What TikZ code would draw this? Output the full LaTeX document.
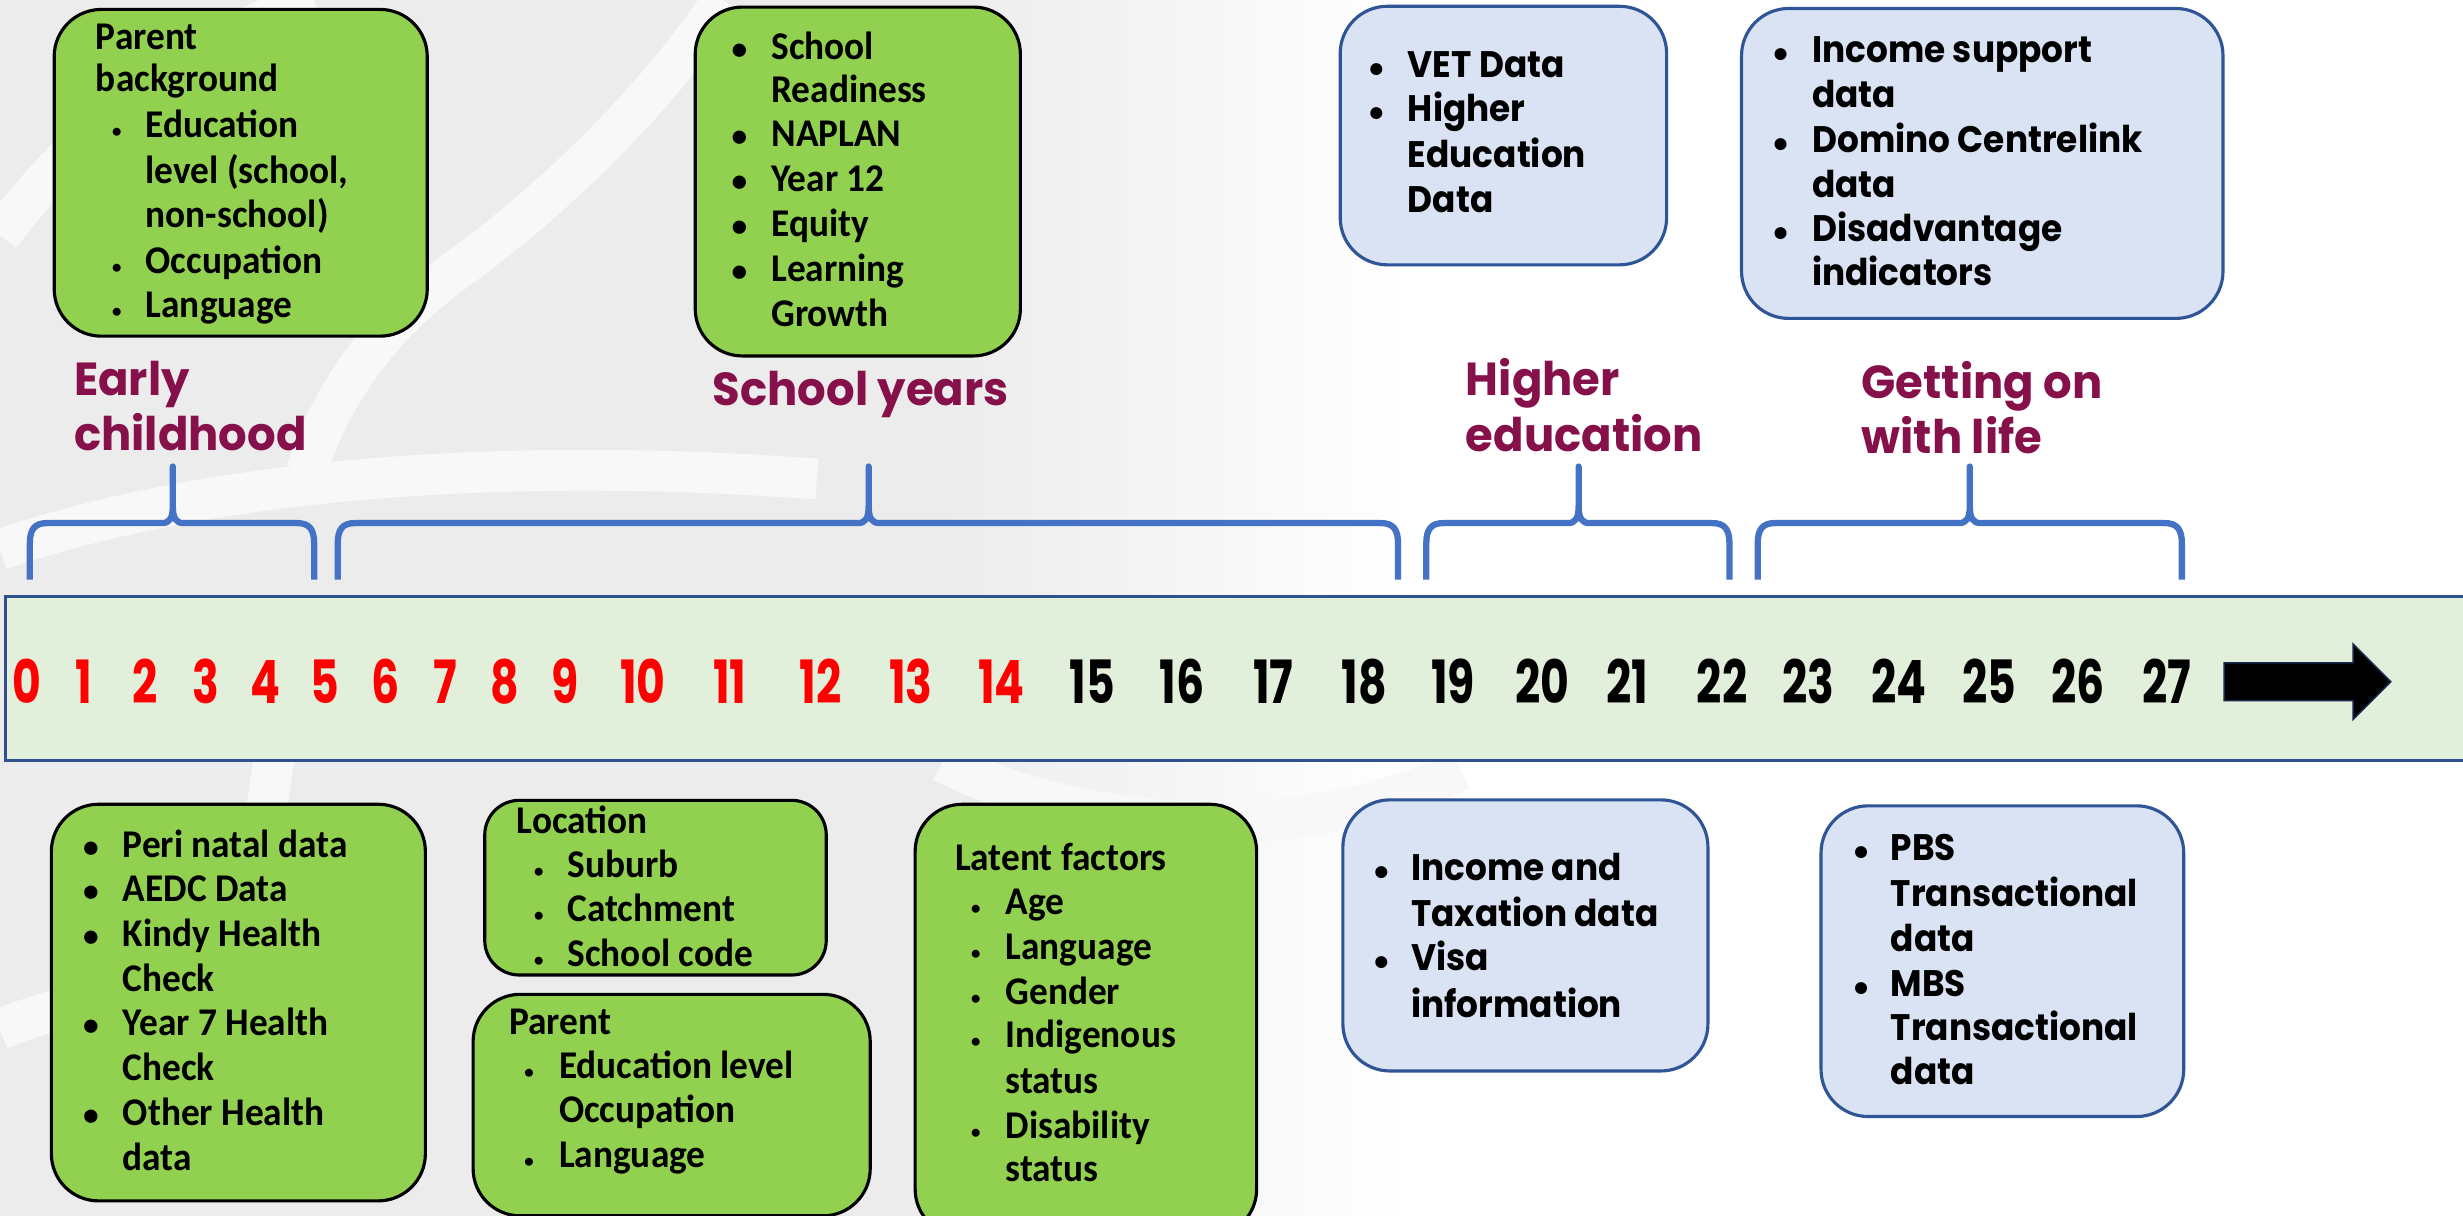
\documentclass[tikz,border=0pt]{standalone}
\usepackage{fontspec}
\setmainfont{Carlito}[FakeStretch=0.95]
\newfontfamily\bulfont{Carlito}
\newfontfamily\gothic{Poppins}[FakeStretch=0.93]
\newfontfamily\headfont{Poppins}[FakeStretch=0.97]
\newfontfamily\numfont{Poppins}[FakeStretch=0.74]
\definecolor{gfill}{HTML}{92D050}
\definecolor{bfill}{HTML}{DAE3F3}
\definecolor{bdraw}{HTML}{2F5597}
\definecolor{bandfill}{HTML}{E2EFDA}
\definecolor{banddraw}{HTML}{2F528F}
\definecolor{bracec}{HTML}{4472C4}
\definecolor{headc}{HTML}{86104A}
\definecolor{wmgray}{HTML}{ECECEC}
\definecolor{wmwhite}{HTML}{F8F8F8}
\definecolor{numred}{HTML}{FF0000}

\newcommand\boxat[6]{\node[#2, anchor=north west, minimum width={#5pt-#3pt}, minimum height={#6pt-#4pt}] (#1) at (#3,#4) {};}

\newcommand\tblock[7]{%
  \foreach \yy/\bt/\txt [count=\i] in {#7}{%
    \ifcase\bt
      \node[#5] (#1-\i) at (#2,\yy) {\txt};
    \or
      \node[#6] (#1-d\i) at (#3,\yy) {\textbullet};
      \node[#5] (#1-\i) at (#4,\yy) {\txt};
    \or
      \node[smallbul] (#1-d\i) at (#3,\yy) {\textbullet};
      \node[#5] (#1-\i) at (#4,\yy) {\txt};
    \or
      \node[#5] (#1-\i) at (#4,\yy) {\txt};
    \fi}}

\newcommand\agebrace[3]{%
  \draw[bracestyle] (#1,369) -- (#1,346) .. controls (#1,337) and (#1+3,333) .. (#1+11,333)
    -- (#2-7,333) .. controls (#2-2,333) and (#2,330) .. (#2,322) -- (#2,297)
    -- (#2,322) .. controls (#2,330) and (#2+2,333) .. (#2+7,333)
    -- (#3-11,333) .. controls (#3-3,333) and (#3,337) .. (#3,346) -- (#3,369);}

\begin{document}
\begin{tikzpicture}[x=1pt,y=-1pt,
  gbox/.style={draw=black, line width=2pt, fill=gfill, rounded corners=30pt, inner sep=0pt},
  bbox/.style={draw=bdraw, line width=2pt, fill=bfill, rounded corners=30pt, inner sep=0pt},
  gtxt/.style={inner sep=0pt, anchor=base west, font=\fontsize{25}{28}\selectfont\bfseries},
  btxt/.style={inner sep=0pt, anchor=base west, font=\gothic\fontsize{23.5}{28}\selectfont\bfseries},
  htxt/.style={inner sep=0pt, anchor=base west, text=headc, font=\headfont\fontsize{29.5}{35}\selectfont\bfseries},
  numtxt/.style={inner sep=0pt, anchor=base, font=\numfont\fontsize{38}{38}\selectfont\bfseries},
  bigbul/.style={inner sep=0pt, anchor=base, font=\bulfont\fontsize{20}{20}\selectfont\bfseries},
  bluebul/.style={inner sep=0pt, anchor=base, font=\bulfont\fontsize{18}{18}\selectfont\bfseries},
  smallbul/.style={inner sep=0pt, anchor=base, font=\bulfont\fontsize{12}{12}\selectfont\bfseries},
  bracestyle/.style={draw=bracec, line width=4pt, line join=round}]
\useasboundingbox (0,0) rectangle (1568,774);
% watermark background
\fill[white] (0,0) rectangle (1568,774);
\fill[wmgray] (0,0) rectangle (600,774);
\shade[left color=wmgray, right color=white] (599,0) rectangle (900,774);
\begin{scope}[wmwhite, line width=26pt]
\draw (0,150) .. controls (60,70) and (130,25) .. (200,0);
\draw (0,350) .. controls (130,305) and (320,290) .. (520,305);
\draw (195,300) .. controls (215,240) and (250,200) .. (300,165);
\draw (300,165) .. controls (360,120) and (420,60) .. (460,0);
\draw (600,485) .. controls (700,535) and (840,535) .. (930,490);
\draw (175,480) .. controls (165,540) and (160,600) .. (160,660);
\draw (0,655) .. controls (40,640) and (80,630) .. (120,625);
\end{scope}
% timeline band
\node[draw=banddraw, line width=2pt, fill=bandfill, anchor=north west, inner sep=0pt,
  minimum width=1580pt, minimum height=104.6pt] (band) at (2.6,378.6) {};
\draw[fill=black, draw=bdraw!50!black, line width=1pt] (1416,422) -- (1498,422) -- (1498,410)
  -- (1522,434) -- (1498,458) -- (1498,446) -- (1416,446) -- cycle;
% ages
\foreach \n/\xx in {0/17,1/53.6,2/92.6,3/131,4/169.3,5/207,6/245.4,7/283.8,8/321.6,9/360,
  10/409.3,11/464.7,12/522.5,13/579.8,14/637.6}
  \node[numtxt, text=numred] (age\n) at (\xx,447.6) {\n};
\foreach \n/\xx in {15/695.5,16/752.7,17/810.5,18/868.5,19/925,20/981.9,21/1035.8,22/1096.3,
  23/1151,24/1209,25/1266.5,26/1323,27/1379.3}
  \node[numtxt, text=black] (age\n) at (\xx,447.6) {\n};
% braces
\agebrace{19}{110}{200}
\agebrace{215}{553}{890}
\agebrace{908}{1005}{1101}
\agebrace{1119}{1254}{1389}
% stage headings
\node[htxt] (h1a) at (47,251.5) {Early};
\node[htxt] (h1b) at (47,286.5) {childhood};
\node[htxt] (h2) at (453.5,258) {School years};
\node[htxt] (h3a) at (933,252) {Higher};
\node[htxt] (h3b) at (933,287.5) {education};
\node[htxt] (h4a) at (1185,253.5) {Getting on};
\node[htxt] (h4b) at (1185,288.7) {with life};
% boxes
\boxat{pbg}{gbox}{33.5}{5}{271}{213}
\boxat{sch}{gbox}{441.6}{3.5}{648.6}{225.6}
\boxat{vet}{bbox}{852.2}{3}{1060}{167.6}
\boxat{inc}{bbox}{1107.7}{4.4}{1414.2}{201.7}
\boxat{peri}{gbox}{31.7}{511}{269.8}{763.5}
\boxat{loc}{gbox, rounded corners=22pt}{307.6}{508.5}{525}{619.7}
\boxat{par}{gbox}{300.2}{632}{553}{773}
\boxat{lat}{gbox}{581.6}{511}{799}{786}
\boxat{tax}{bbox}{853.9}{508.2}{1086.3}{680.8}
\boxat{pbs}{bbox}{1158.3}{512}{1389.2}{709.8}
% box texts
\tblock{pbgt}{60.9}{74.3}{92.6}{gtxt}{bigbul}{31.7/0/Parent, 58.5/0/background, 87.7/2/Education,
  116.5/3/{level (school,}, 145/3/{non-school)}, 174.2/2/Occupation, 202.2/2/Language}
\tblock{scht}{0}{470.8}{490.9}{gtxt}{bigbul}{37.8/1/School, 65.3/3/Readiness, 93.3/1/NAPLAN,
  121.8/1/Year 12, 150.3/1/Equity, 179/1/Learning, 207.6/3/Growth}
\tblock{vett}{0}{876.2}{896.1}{btxt}{bluebul}{49.5/1/VET Data, 77.5/1/Higher, 106.7/3/Education, 135.2/3/Data}
\tblock{inct}{0}{1133.6}{1153.5}{btxt}{bluebul}{39.5/1/Income support, 68.2/3/data, 97/1/Domino Centrelink,
  125.5/3/data, 154/1/Disadvantage, 181.5/3/indicators}
\tblock{perit}{0}{57.9}{78}{gtxt}{bigbul}{545.6/1/Peri natal data, 574/1/AEDC Data, 602.5/1/Kindy Health,
  631/3/Check, 659.5/1/Year 7 Health, 688/3/Check, 716.5/1/Other Health, 745/3/data}
\tblock{loct}{328.9}{343}{361.2}{gtxt}{bigbul}{530.5/0/Location, 558.5/2/Suburb, 586.8/2/Catchment, 615.4/2/School code}
\tblock{part}{324}{336.8}{355.7}{gtxt}{bigbul}{658.3/0/Parent, 686.5/2/Education level, 714.7/3/Occupation, 743.1/2/Language}
\tblock{latt}{607.8}{621.2}{640}{gtxt}{bigbul}{553.9/0/Latent factors, 581.9/2/Age, 610.7/2/Language, 639.2/2/Gender,
  666.8/2/Indigenous, 696/3/status, 724.7/2/Disability, 752.3/3/status}
\tblock{taxt}{0}{879.5}{898.2}{btxt}{bluebul}{560.6/1/Income and, 590/3/Taxation data, 618/1/Visa, 647.6/3/information}
\tblock{pbst}{0}{1184.8}{1203.5}{btxt}{bluebul}{548/1/PBS, 577.2/3/Transactional, 605.9/3/data, 634.5/1/MBS,
  662.5/3/Transactional, 690.7/3/data}
\end{tikzpicture}
\end{document}
